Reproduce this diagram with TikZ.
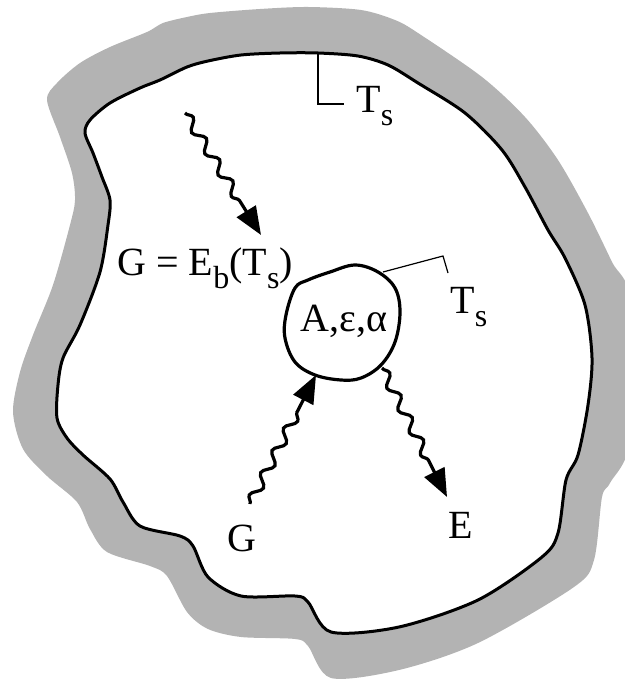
\documentclass[tikz,border=0pt]{standalone}
\usepackage{fontspec}
\setmainfont{Liberation Serif}
\usetikzlibrary{arrows.meta,calc,decorations.pathmorphing}
\definecolor{wallgray}{HTML}{B3B3B3}
\newcommand{\lowsub}[1]{\raisebox{-6.5pt}{\fontsize{16}{16}\selectfont #1}}
\tikzset{>={Triangle[length=14pt,width=11pt]},wall/.style={fill=wallgray,draw=none},cavity/.style={fill=white,draw=black,line width=1.5pt},blob/.style={draw=black,line width=1.6pt},ray/.style={->,line width=1.6pt,decorate,decoration={snake,amplitude=2.4pt,segment length=12.5pt,post length=20pt}},leader/.style={line width=0.6pt},lbl/.style={inner sep=0pt,font=\rmfamily\fontsize{20}{24}\selectfont}}

\begin{document}
\begin{tikzpicture}[x=0.5pt,y=-0.5pt]
\useasboundingbox (0,0) rectangle (625,679);
\fill[wall] plot[smooth cycle,tension=0.5] coordinates {(47,100) (57,83) (80,63) (110,47) (147,32) (163,23) (187,17) (210,13) (260,9) (308,7) (361,10) (395,20) (418,33) (482,77) (525,117) (558,160) (588,213) (612,262) (630,300) (630,440) (610,483) (602,497) (594,560) (574,587) (478,643) (399,670) (331,678) (308,646) (295,639) (241,637) (208,629) (187,612) (167,576) (150,566) (107,552) (90,529) (77,502) (47,476) (23,449) (13,412) (20,372) (33,335) (53,285) (70,225) (75,200) (72,173) (60,137)};
\draw[cavity] plot[smooth cycle,tension=0.5] coordinates {(85,133) (90,120) (110,103) (140,88) (160,80) (187,67) (208,61) (241,55) (280,53) (318,53) (358,56) (388,65) (418,83) (465,113) (502,150) (525,187) (548,230) (565,258) (585,305) (592,358) (588,405) (578,455) (566,480) (558,533) (542,557) (478,600) (399,627) (331,632) (308,602) (295,596) (241,596) (208,577) (193,546) (180,536) (140,526) (123,502) (110,479) (83,455) (67,438) (57,418) (58,385) (63,358) (80,325) (100,272) (108,225) (110,200) (102,177) (93,153)};
\draw[blob] plot[smooth cycle,tension=0.6] coordinates {(295,288) (308,280) (330,272) (355,265) (378,272) (395,288) (400,312) (395,342) (381,365) (361,378) (341,380) (315,375) (295,362) (285,338) (286,315)};

\node[lbl,anchor=base] (body) at (344,331) {A,ε,α};
\node[lbl,anchor=base west] (geq) at (117,275) {G = E\lowsub{b}(T\lowsub{s})};
\node[lbl,anchor=base west] (tswall) at (356,113) {T\lowsub{s}};
\node[lbl,anchor=base west] (tsbody) at (450,313) {T\lowsub{s}};
\node[lbl,anchor=base west] (glbl) at (227,551) {G};
\node[lbl,anchor=base west] (elbl) at (448,538) {E};

\coordinate (wallpt) at (318,53);
\coordinate (bodypt) at (383,272);
\coordinate (src) at (185,113);
\coordinate (eqtop) at (261,235);
\coordinate (gin) at (250,504);
\coordinate (bodyG) at (316,375);
\coordinate (bodyE) at (382,368);
\coordinate (eout) at (447,497);

\draw[leader] (wallpt) |- ($(tswall.base west)+(-12,-9)$);
\draw[leader] (bodypt) -- ($(tsbody.base west)+(-7,-57)$) -- ($(tsbody.base west)+(-2,-40)$);
\draw[ray] (src) -- (eqtop);
\draw[ray] (gin) -- (bodyG);
\draw[ray] (bodyE) -- (eout);
\end{tikzpicture}
\end{document}
